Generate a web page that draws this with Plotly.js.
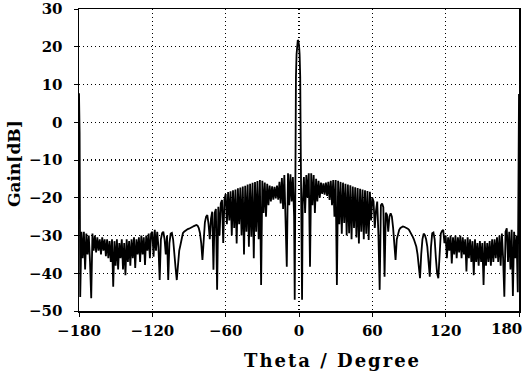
<!DOCTYPE html>
<html>
<head>
<meta charset="utf-8">
<script src="https://cdn.plot.ly/plotly-3.0.1.min.js"></script>
<style>
html,body{margin:0;padding:0;background:#fff;}
#chart{width:527px;height:372px;}
#chart .annotation[data-index="0"] text{letter-spacing:2px;}
</style>
</head>
<body>
<div id="chart"></div>
<script>
const theta = [
 -180,-179.5,-179,-178,-177,-176,-175,-174,-173,-172,-171,-170,-169,-168,-167,-166,-165,-164,-163,-162,-161,
 -160,-159,-158,-157,-156,-155,-154,-153,-152,-151,-150,-149,-148,-147,-146,-145,-144,-143,-142,-141,
 -140,-139,-138,-137,-136,-135,-134,-133,-132,-131,-130,-129,-128,-127,-126,-125,-124,-123,-122,-121,
 -120,-119,-118,-117,-116,-115,-114,-113,-112,-111,-110,-109,-108,-107,-106,-105,-104,-103,-102,-101,
 -100,-99,-98,-97,-96,-95,-94,-93,-92,-91,-90,-89,-88,-87,-86,-85,-84,-83,-82,-81,
 -80,-79,-78,-77,-76,-75,-74,-73,-72,-71,-70,-69,-68,-67,-66,-65,-64,-63,-62,-61,
 -60,-59,-58,-57,-56,-55,-54,-53,-52,-51,-50,-49,-48,-47,-46,-45,-44,-43,-42,-41,
 -40,-39,-38,-37,-36,-35,-34,-33,-32,-31,-30,-29,-28,-27,-26,-25,-24,-23,-22,-21,
 -20,-19,-18,-17,-16,-15,-14,-13,-12,-11,-10,-9,-8,-7,-6,-5,-4,-3.5,
 -3,-2.5,-2,-1.5,-1,-0.5,0,0.5,1,1.5,2,2.5,
 3,4,5,6,7,8,9,10,11,12,13,14,15,16,17,18,19,20,
 21,22,23,24,25,26,27,28,29,30,31,32,33,34,35,36,37,38,39,40,
 41,42,43,44,45,46,47,48,49,50,51,52,53,54,55,56,57,58,59,60,
 61,62,63,64,65,66,67,68,69,70,71,72,73,74,75,76,77,78,79,80,
 81,82,83,84,85,86,87,88,89,90,91,92,93,94,95,96,97,98,99,100,
 101,102,103,104,105,106,107,108,109,110,111,112,113,114,115,116,117,118,119,120,
 121,122,123,124,125,126,127,128,129,130,131,132,133,134,135,136,137,138,139,140,
 141,142,143,144,145,146,147,148,149,150,151,152,153,154,155,156,157,158,159,160,
 161,162,163,164,165,166,167,168,169,170,171,172,173,174,175,176,177,178,179,179.5,180
];
const gain = [
 7.7,-3,-46.3,-29,-36,-29,-39,-29.5,-35,-30,-37,-46.6,-29.5,-34,-30,-34.5,-30.5,-34,-31,-35,-30.5,
 -34,-31,-35.5,-31,-36,-31.5,-37,-31,-43.6,-31.5,-38,-31,-39,-32,-36,-31,-39,-32,-40.5,-31,
 -37,-31.5,-38,-31,-36,-30.5,-38.6,-31,-35,-30.5,-37,-30,-35,-30.5,-37.8,-30,-34,-29.5,-36,-29.5,
 -29,-35.6,-28.5,-34,-29,-33,-41.8,-31,-29.4,-29,-31,-35,-30,-41.8,-32,-29.5,-29.3,-31,-36,-38.5,
 -41.8,-37,-34,-32.5,-31,-29.4,-29,-28.7,-28.5,-28.3,-28.2,-28.1,-27.9,-27.7,-27.5,-27.3,-27.2,-27.4,-28,-29.4,
 -32,-36.5,-30,-26.5,-25,-24.6,-27,-31,-25.5,-23.7,-39.1,-24,-23,-44.4,-22.4,-30,-21.5,-20.6,-32,-20.5,
 -19,-27,-18.5,-26,-18.3,-30,-18,-28,-17.8,-32.1,-17.5,-27,-17.3,-30,-17,-35,-16.8,-29,-16.5,-33,
 -16.3,-30.3,-16,-36,-15.8,-29,-15.6,-31,-15.3,-43.1,-15.5,-24,-16,-25,-16.3,-22,-16.8,-21,-17,-20.5,
 -17.1,-20.2,-16.8,-20.5,-15.8,-21.5,-14.8,-23,-14,-26,-38.3,-13.5,-22,-13.8,-21,-14.5,-25,-47,
 -10,12,18,20.5,21.8,21.5,20.5,18,12,-10,-30,-47,
 -22,-14.5,-24,-14,-20,-13.5,-38.3,-13.5,-22,-14,-24,-15,-21,-15.5,-20,-16,-19,-16.2,
 -19.2,-16,-19.5,-15.8,-20.6,-15.5,-22,-15.3,-25,-15.3,-43.1,-15.5,-27,-15.8,-29.5,-16,-26.7,-16.3,-30,-16.5,
 -29.4,-16.7,-31,-17,-28,-17.2,-30.5,-17.4,-32.1,-17.6,-29,-17.8,-31,-18,-29.5,-18.2,-31.2,-18.4,-26,-20,
 -21,-28,-23.4,-21,-30,-44.4,-22,-21.5,-22.5,-40.9,-24,-24.5,-29,-25,-24.1,-25,-28,-33,-36.5,-31,
 -29.4,-28.5,-28,-27.7,-27.6,-27.7,-27.8,-28,-28.2,-28.5,-29,-29.5,-30.3,-31,-32,-33,-35,-38,-41.3,-35,
 -31,-29.5,-29.9,-31,-33,-37,-40.9,-33,-29.4,-29.2,-31,-36,-40,-41.3,-33,-29.5,-28.8,-28.5,-32,-30,
 -36,-30.5,-34,-30,-37.4,-30.5,-35,-30,-36,-30.5,-34.5,-30,-36,-30.5,-35,-31,-39.5,-30.5,-36,-31,
 -37,-31.5,-40.5,-31,-37,-32,-38,-31.5,-37,-32,-43.1,-31.5,-38,-32,-37,-31.5,-38,-31,-37,-31,
 -36,-30.5,-37,-30,-38,-29.5,-36,-46.2,-29,-28.1,-37,-29,-39,-28.5,-46,-29,-36,-30,-45,-5,7.5
];
const xTickVals = [-180,-120,-60,0,60,120,180];
const xTickText = ['\u2212180','\u2212120','\u221260','0','60','120',''];
const lastXLabel = '180';
const yTickVals = [-50,-40,-30,-20,-10,0,10,20,30];
const yTickText = ['\u221250','\u221240','\u221230','\u221220','\u221210','0','10','20','30'];

const tickFont = {family: 'DejaVu Serif', size: 15, color: '#000', weight: 'bold'};
const titleFont = {family: 'DejaVu Serif', size: 18, color: '#000', weight: 'bold'};
const yTitleFont = {family: 'DejaVu Serif', size: 17, color: '#000', weight: 'bold'};

const trace = {
  x: theta, y: gain, type: 'scatter', mode: 'lines',
  line: {color: '#000', width: 1.8}, hoverinfo: 'none'
};

const layout = {
  width: 527, height: 372,
  margin: {l: 79, r: 8, t: 9, b: 61, pad: 0},
  paper_bgcolor: '#fff', plot_bgcolor: '#fff',
  showlegend: false,
  xaxis: {
    range: [-180, 180], tickmode: 'array', tickvals: xTickVals, ticktext: xTickText,
    showgrid: true, gridcolor: '#000', griddash: '1px,3px', gridwidth: 1.2,
    zeroline: false, showline: true, linecolor: '#000', linewidth: 1.5, mirror: true,
    ticks: 'outside', ticklen: 4, tickcolor: '#000', tickfont: tickFont,
    ticklabelstandoff: 1
  },
  yaxis: {
    range: [-50, 30], tickmode: 'array', tickvals: yTickVals, ticktext: yTickText,
    showgrid: true, gridcolor: '#000', griddash: '1px,3px', gridwidth: 1.2,
    zeroline: false, showline: true, linecolor: '#000', linewidth: 1.5, mirror: true,
    ticks: 'outside', ticklen: 4, tickcolor: '#000', tickfont: tickFont,
    ticklabelstandoff: 8
  },
  annotations: [
    {text: 'Theta / Degree', xref: 'paper', yref: 'paper', x: 0.5, y: 0, xanchor: 'center', yanchor: 'top',
     yshift: -37, xshift: 33, showarrow: false, font: titleFont},
    {text: 'Gain[dB]', xref: 'paper', yref: 'paper', x: 0, y: 0.5, xanchor: 'center', yanchor: 'middle',
     xshift: -65, yshift: -4, textangle: -90, showarrow: false, font: yTitleFont},
    {text: lastXLabel, xref: 'x', yref: 'paper', x: 180, y: 0, xanchor: 'right', yanchor: 'top',
     xshift: 5, yshift: -7, showarrow: false, font: tickFont}
  ]
};

Plotly.newPlot('chart', [trace], layout, {staticPlot: true, displayModeBar: false});
</script>
</body>
</html>
